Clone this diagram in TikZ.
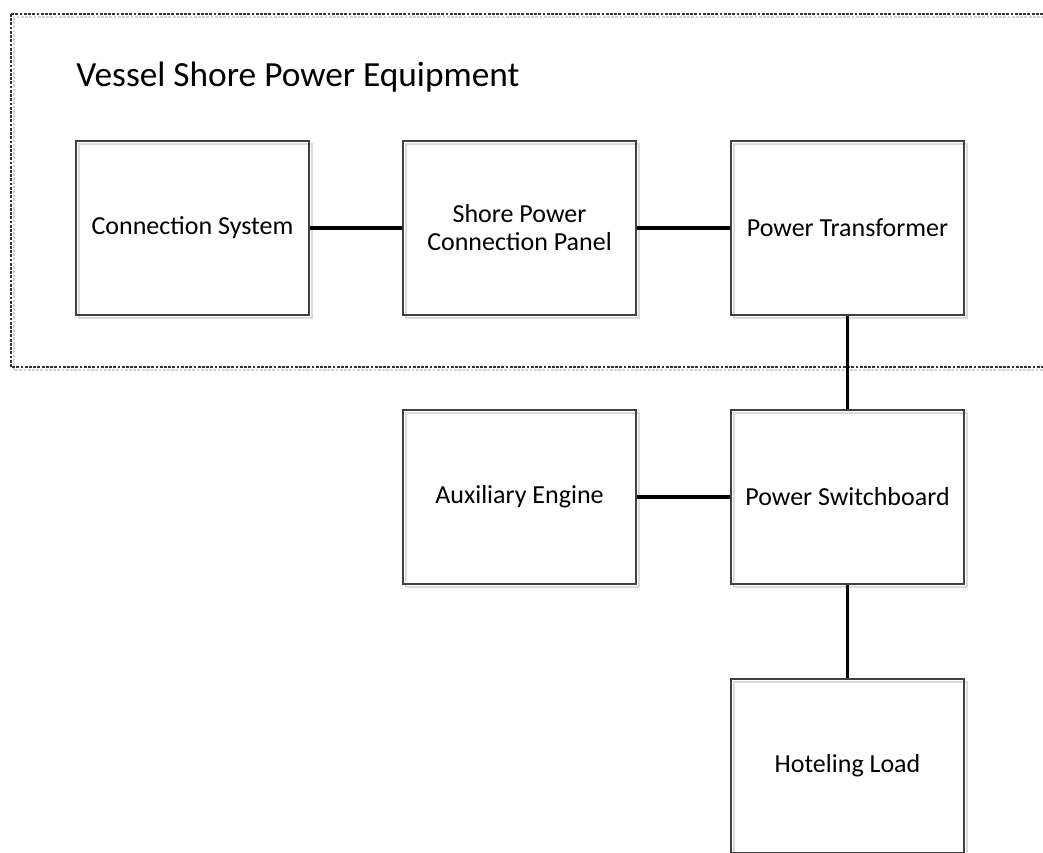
\documentclass[tikz,border=0pt]{standalone}
\usepackage{fontspec}
\setmainfont{Carlito}
\usetikzlibrary{positioning}

\begin{document}
\begin{tikzpicture}[x=0.02cm,y=-0.02cm,
  blk/.style={draw=black!75,line width=1.6pt,minimum width=4.66cm,minimum height=3.48cm,
    align=center,font=\fontsize{14.8}{16}\selectfont},
  blkshadow/.style={draw=black!14,line width=1.6pt,minimum width=4.66cm,minimum height=3.48cm},
  link/.style={line width=2pt,black},
  group/.style={draw=black!80,line width=0.7pt,dash pattern=on 1.6pt off 0.8pt},
  groupshadow/.style={draw=black!18,line width=0.7pt,dash pattern=on 1.6pt off 0.8pt}]
\useasboundingbox (0,0) rectangle (1043,852);
\clip (0,0) rectangle (1043,852);
%% equipment group
\draw[groupshadow](14,17) rectangle (1070,370);
\draw[group](11,14) rectangle (1070,367);
\node[anchor=base west,inner sep=0pt,font=\fontsize{20.1}{24}\selectfont] (title) at (76,86) {Vessel Shore Power Equipment};
%% boxes
\foreach \n/\x/\y/\t in {cs/192.5/228/Connection System,
    sp/519.5/228/{Shore Power\\Connection Panel},
    pt/847.5/228/Power Transformer,
    ae/519.5/497/Auxiliary Engine,
    ps/847.5/497/Power Switchboard,
    hl/847.5/766/Hoteling Load}{
  \node[blkshadow] at (\x+3,\y+3) {};
  \node[blk] (\n) at (\x,\y) {\t};
}
%% links
\draw[link](cs)--(sp);
\draw[link](sp)--(pt);
\draw[link](pt)--(ps);
\draw[link](ae)--(ps);
\draw[link](ps)--(hl);
\end{tikzpicture}
\end{document}
